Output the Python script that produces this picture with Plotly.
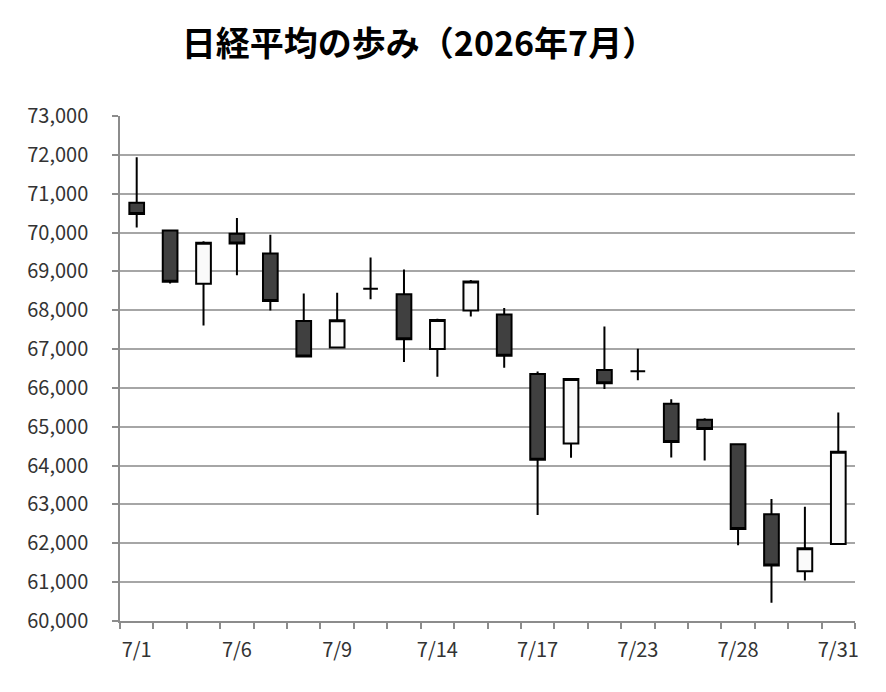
import plotly.graph_objects as go

dates = ["7/1", "7/2", "7/3", "7/6", "7/7", "7/8", "7/9", "7/10", "7/13", "7/14", "7/15",
         "7/16", "7/17", "7/21", "7/22", "7/23", "7/24", "7/27", "7/28", "7/29", "7/30", "7/31"]
open_ = [70770, 70050, 68680, 69970, 69460, 67720, 67040, 68550, 68410, 67000, 67990,
         67890, 66360, 64570, 66460, 66430, 65590, 65180, 64550, 62750, 61280, 61980]
high = [71940, 70060, 69775, 70375, 69940, 68430, 68450, 69360, 69050, 67780, 68780,
        68060, 66420, 66230, 67580, 67010, 65710, 65220, 64575, 63140, 62940, 65370]
low = [70130, 68690, 67610, 68900, 67990, 66800, 67030, 68280, 66670, 66290, 67840,
       66520, 62730, 64200, 65970, 66200, 64210, 64130, 61950, 60470, 61040, 61975]
close = [70480, 68730, 69740, 69720, 68240, 66810, 67740, 68550, 67250, 67750, 68740,
         66830, 64150, 66230, 66120, 66430, 64610, 64940, 62370, 61430, 61870, 64360]
label_dates = ["7/1", "7/6", "7/9", "7/14", "7/17", "7/23", "7/28", "7/31"]
title_text = "日経平均の歩み（2026年7月）"

font_jp = "Noto Sans CJK JP"

fig = go.Figure(go.Candlestick(
    x=dates, open=open_, high=high, low=low, close=close,
    increasing=dict(fillcolor="#fafafa", line=dict(color="#000000", width=2)),
    decreasing=dict(fillcolor="#404040", line=dict(color="#000000", width=2)),
    whiskerwidth=0,
    showlegend=False,
))

fig.update_layout(
    width=886, height=692,
    paper_bgcolor="white", plot_bgcolor="white",
    margin=dict(l=112, r=39, t=108, b=79),
    boxgap=0.56, boxgroupgap=0,
    title=dict(text="<b>" + title_text + "</b>", x=411 / 886, xanchor="center",
               y=1 - 36 / 692, yanchor="middle",
               font=dict(family=font_jp, size=34, color="#000000")),
    font=dict(family=font_jp, size=20, color="#333333"),
    xaxis=dict(
        type="category", rangeslider=dict(visible=False),
        tickmode="array", tickvals=dates,
        ticktext=[d if d in label_dates else "" for d in dates],
        tickangle=0, automargin=False,
        tickson="boundaries", ticks="outside", ticklen=6, tickcolor="#8c8c8c", tickwidth=1.5,
        ticklabelstandoff=10,
        showgrid=False, showline=True, linecolor="#8c8c8c", linewidth=1.5,
        tickfont=dict(family=font_jp, size=20, color="#333333"),
        range=[-0.5, len(dates) - 0.5],
    ),
    yaxis=dict(
        range=[60000, 73000], dtick=1000, tickformat=",",
        automargin=False,
        ticks="outside", ticklen=6, tickcolor="#8c8c8c", tickwidth=1.5,
        ticklabelstandoff=20,
        showgrid=True, gridcolor="#a6a6a6", gridwidth=1.5,
        showline=True, linecolor="#8c8c8c", linewidth=1.5,
        tickfont=dict(family=font_jp, size=20, color="#333333"),
        zeroline=False,
    ),
)

fig.write_html("out.html")
